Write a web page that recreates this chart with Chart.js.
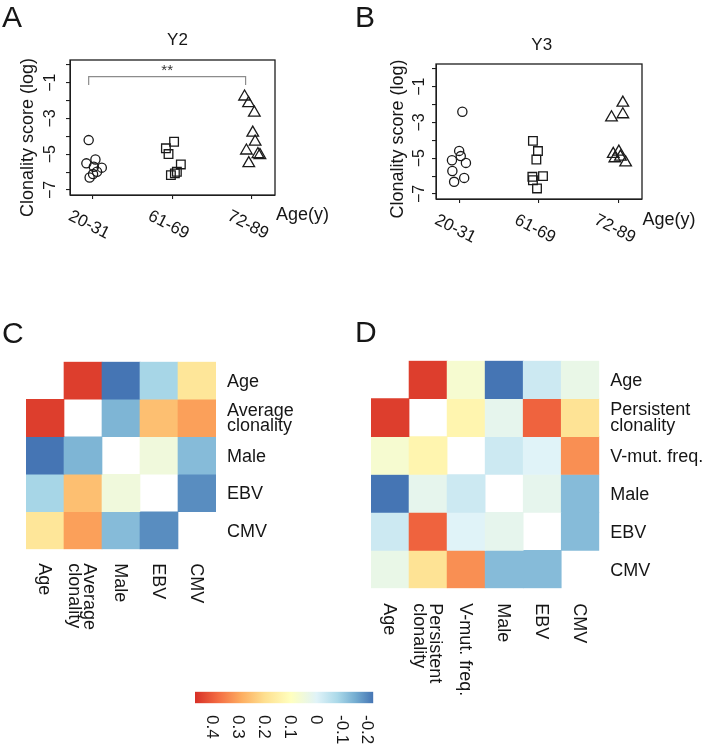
<!DOCTYPE html>
<html><head><meta charset="utf-8">
<script src="https://cdn.jsdelivr.net/npm/chart.js@4.4.0/dist/chart.umd.min.js"></script>
<style>
html,body{margin:0;padding:0;background:#fff;}
#wrap{position:relative;width:710px;height:750px;overflow:hidden;}
#wrap canvas{position:absolute;left:0;top:0;}
</style></head><body>
<div id="wrap">
<canvas id="cA" width="710" height="750"></canvas>
<canvas id="cB" width="710" height="750"></canvas>
<canvas id="cC" width="710" height="750"></canvas>
<canvas id="cD" width="710" height="750"></canvas>
<canvas id="cBar" width="710" height="750"></canvas>
</div>
<script>
// ---------------- DATA ----------------
const ageGroups = ['20-31', '61-69', '72-89'];
const yTickValues = [-1, -3, -5, -7];

// Panel A (Y2)
const y2CircleX = [0.945, 0.916, 1.03, 1.01, 1.11, 1.05, 1.0, 0.957];
const y2CircleY = [-4.21, -5.51, -5.29, -5.70, -5.75, -5.98, -6.11, -6.30];
const y2SquareX = [2.02, 1.917, 1.95, 2.105, 2.055, 2.03, 1.98];
const y2SquareY = [-4.30, -4.67, -4.99, -5.57, -5.98, -6.07, -6.17];
const y2TriX = [2.907, 2.957, 3.03, 3.01, 3.04, 2.93, 3.075, 3.10, 2.96];
const y2TriY = [-1.78, -2.15, -2.68, -3.80, -4.30, -4.80, -5.00, -5.05, -5.51];
const y2BracketX = [0.945, 2.92];
const y2BracketY = [-1.13, -0.66];
const y2SigLabel = '**';

// Panel B (Y3)
const y3CircleX = [1.04, 1.0, 1.02, 0.91, 1.085, 0.915, 1.063, 0.937];
const y3CircleY = [-2.40, -4.59, -4.88, -5.11, -5.26, -5.71, -6.10, -6.32];
const y3SquareX = [1.924, 1.987, 1.967, 1.917, 2.05, 1.924, 1.975];
const y3SquareY = [-4.03, -4.60, -5.07, -6.04, -6.00, -6.23, -6.69];
const y3TriX = [3.05, 2.908, 3.05, 3.0, 2.93, 2.95, 3.02, 3.085];
const y3TriY = [-1.90, -2.72, -2.55, -4.64, -4.77, -5.01, -4.92, -5.24];

// Panel C heatmap
const cLabels = ['Age', ['Average', 'clonality'], 'Male', 'EBV', 'CMV'];
const cValues = [
  [null, 0.45, -0.22, -0.085, 0.18],
  [0.45, null, -0.137, 0.26, 0.31],
  [-0.22, -0.137, null, 0.05, -0.127],
  [-0.085, 0.26, 0.05, null, -0.19],
  [0.18, 0.31, -0.127, -0.19, null]
];

// Panel D heatmap
const dLabels = ['Age', ['Persistent', 'clonality'], 'V-mut. freq.', 'Male', 'EBV', 'CMV'];
const dValues = [
  [null, 0.45, 0.07, -0.22, -0.03, 0.03],
  [0.45, null, 0.133, 0.02, 0.395, 0.19],
  [0.07, 0.133, null, -0.03, 0.0, 0.333],
  [-0.22, 0.02, -0.03, null, 0.02, -0.127],
  [-0.03, 0.395, 0.0, 0.02, null, -0.127],
  [0.03, 0.19, 0.333, -0.127, -0.127, null]
];

// Colour bar
const colorbarTicks = [0.4, 0.3, 0.2, 0.1, 0, -0.1, -0.2];
const colorbarTickLabels = ['0.4', '0.3', '0.2', '0.1', '0', '-0.1', '-0.2'];
const colorbarRange = [-0.219, 0.471];
const colorStopValues = [0.47, 0.38, 0.29, 0.20, 0.10, 0.00, -0.08, -0.15, -0.22];
const colorStopColors = ['#d73027', '#f46d43', '#fdae61', '#fee090', '#ffffbf', '#e0f3f8', '#abd9e9', '#74add1', '#4575b4'];

// ---------------- HELPERS ----------------
const W = 710, H = 750;
const FONT = "'Liberation Sans', Arial, Helvetica, sans-serif";
const INK = '#161616';
const f = s => s + 'px ' + FONT;

function hexToRgb(h) { return [1, 3, 5].map(i => parseInt(h.slice(i, i + 2), 16)); }
function colorFor(v) {
  const sv = colorStopValues, sc = colorStopColors;
  if (v >= sv[0]) return sc[0];
  if (v <= sv[sv.length - 1]) return sc[sc.length - 1];
  for (let i = 0; i < sv.length - 1; i++) {
    if (v <= sv[i] && v >= sv[i + 1]) {
      const t = (sv[i] - v) / (sv[i] - sv[i + 1]);
      const a = hexToRgb(sc[i]), b = hexToRgb(sc[i + 1]);
      return 'rgb(' + a.map((c, k) => Math.round(c + (b[k] - c) * t)).join(',') + ')';
    }
  }
}

// ---------------- SCATTER PANELS ----------------
function makeScatter(id, p) {
  const pts = (xs, ys) => xs.map((x, i) => ({ x, y: ys[i] }));
  const mk = (data, style, r) => ({
    data, pointStyle: style, pointRadius: r, showLine: false,
    pointBackgroundColor: 'rgba(0,0,0,0)', pointBorderColor: '#1a1a1a', pointBorderWidth: 1.3
  });
  const datasets = [
    mk(pts(p.cx, p.cy), 'circle', 4.6),
    mk(pts(p.sx, p.sy), 'rect', 6.1),
    mk(pts(p.tx, p.ty), 'triangle', 6.7)
  ];
  if (p.bx) {
    datasets.push({
      data: [{ x: p.bx[0], y: p.by[0] }, { x: p.bx[0], y: p.by[1] }, { x: p.bx[1], y: p.by[1] }, { x: p.bx[1], y: p.by[0] }],
      showLine: true, borderColor: '#8c8c8c', borderWidth: 1.2, pointRadius: 0, fill: false, tension: 0
    });
  }
  const A = p.area, TL = 4;
  const decor = {
    id: 'decor' + id,
    afterDraw(chart) {
      const ctx = chart.ctx, ca = chart.chartArea, xs = chart.scales.x, ys = chart.scales.y;
      ctx.save();
      ctx.strokeStyle = '#1e1e1e'; ctx.lineWidth = 1.3;
      ctx.strokeRect(ca.left, ca.top, ca.right - ca.left, ca.bottom - ca.top);
      ctx.fillStyle = INK;
      // y tick labels (rotated)
      ctx.font = f(16);
      yTickValues.forEach(v => {
        const py = ys.getPixelForValue(v);
        ctx.save(); ctx.translate(p.yTickX, py); ctx.rotate(-Math.PI / 2);
        ctx.textAlign = 'center'; ctx.textBaseline = 'alphabetic';
        ctx.fillText('\u2212' + Math.abs(v), 0, 5.7); ctx.restore();
      });
      // x tick labels (rotated clockwise)
      ctx.font = f(17);
      ageGroups.forEach((g, i) => {
        const px = xs.getPixelForValue(i + 1) - 4;
        ctx.save(); ctx.translate(px, ca.bottom + 30); ctx.rotate(27 * Math.PI / 180);
        ctx.textAlign = 'center'; ctx.textBaseline = 'middle';
        ctx.fillText(g, 0, 0); ctx.restore();
      });
      // y title
      ctx.font = f(18);
      ctx.save(); ctx.translate(p.yTitleX, p.yTitleY); ctx.rotate(-Math.PI / 2);
      ctx.textAlign = 'center'; ctx.textBaseline = 'alphabetic';
      ctx.fillText('Clonality score (log)', 0, 6.5); ctx.restore();
      // x title
      ctx.textAlign = 'left'; ctx.textBaseline = 'alphabetic';
      ctx.fillText('Age(y)', p.xTitleX, p.xTitleY);
      // panel title
      ctx.font = f(17); ctx.textAlign = 'center';
      ctx.fillText(p.title, p.titleX, p.titleY);
      // panel letter
      ctx.font = f(30); ctx.textAlign = 'left';
      ctx.fillText(p.letter, p.letterX, p.letterY);
      // significance
      if (p.sig) {
        ctx.font = f(15); ctx.textAlign = 'center'; ctx.fillStyle = '#333';
        ctx.fillText(p.sig, xs.getPixelForValue((p.bx[0] + p.bx[1]) / 2), ys.getPixelForValue(p.by[1]) - 1.5);
      }
      ctx.restore();
    }
  };
  return new Chart(document.getElementById(id), {
    type: 'scatter',
    data: { datasets },
    options: {
      responsive: false, animation: false, events: [],
      layout: { autoPadding: false, padding: { left: A.left - TL, top: A.top, right: W - A.right, bottom: H - A.bottom - TL } },
      plugins: { legend: { display: false }, tooltip: { enabled: false } },
      scales: {
        x: {
          type: 'linear', min: 0.71, max: 3.29,
          ticks: { display: false, stepSize: 1, includeBounds: false },
          grid: { drawOnChartArea: false, drawTicks: true, tickLength: TL, color: '#1e1e1e', lineWidth: 1.1 },
          border: { display: true, color: '#1e1e1e' },
          afterFit: s => { s.height = TL; }
        },
        y: {
          type: 'linear', min: -7.28, max: 0.27,
          ticks: { display: false, stepSize: 1, includeBounds: false },
          grid: { drawOnChartArea: false, drawTicks: true, tickLength: TL, color: '#1e1e1e', lineWidth: 1.1 },
          border: { display: true, color: '#1e1e1e' },
          afterFit: s => { s.width = TL; }
        }
      }
    },
    plugins: [decor]
  });
}

makeScatter('cA', {
  cx: y2CircleX, cy: y2CircleY, sx: y2SquareX, sy: y2SquareY, tx: y2TriX, ty: y2TriY,
  bx: y2BracketX, by: y2BracketY, sig: y2SigLabel,
  area: { left: 70, top: 60, right: 275, bottom: 195 },
  yTickX: 49, yTitleX: 26.5, yTitleY: 137.5, xTitleX: 276, xTitleY: 219.5,
  title: 'Y2', titleX: 177.5, titleY: 45, letter: 'A', letterX: 2, letterY: 27
});
makeScatter('cB', {
  cx: y3CircleX, cy: y3CircleY, sx: y3SquareX, sy: y3SquareY, tx: y3TriX, ty: y3TriY,
  area: { left: 436, top: 64, right: 642, bottom: 199 },
  yTickX: 418, yTitleX: 396, yTitleY: 139, xTitleX: 642.5, xTitleY: 224.5,
  title: 'Y3', titleX: 541.7, titleY: 50, letter: 'B', letterX: 355, letterY: 27
});

// ---------------- HEATMAPS ----------------
function makeHeat(id, labels, values, area, opt) {
  const n = labels.length;
  const datasets = values.map((row, i) => ({
    data: row.map(v => (v === null ? null : [i - 0.5, i + 0.5])),
    backgroundColor: row.map(v => (v === null ? 'rgba(0,0,0,0)' : colorFor(v))),
    borderWidth: 0, grouped: false, barPercentage: 1, categoryPercentage: 1
  }));
  const LS = 15.7, CAPH = 6.4;
  const deco = {
    id: 'heat' + id,
    afterDraw(chart) {
      const ctx = chart.ctx, ca = chart.chartArea, xs = chart.scales.x, ys = chart.scales.y;
      ctx.save(); ctx.fillStyle = INK; ctx.font = f(18); ctx.textBaseline = 'alphabetic'; ctx.textAlign = 'left';
      labels.forEach((lab, i) => {
        const lines = Array.isArray(lab) ? lab : [lab];
        const cy = ys.getPixelForValue(i);
        lines.forEach((ln, k) => {
          const b = CAPH - (lines.length - 1) * LS / 2 + k * LS - (lines.length > 1 ? 1 : 0);
          ctx.fillText(ln, ca.right + 11, cy + b);
        });
        const cx = xs.getPixelForValue(i);
        ctx.save(); ctx.translate(cx, ca.bottom + opt.colGap); ctx.rotate(Math.PI / 2);
        lines.forEach((ln, k) => {
          const b = CAPH - (lines.length - 1) * LS / 2 + k * LS;
          ctx.fillText(ln, 0, b);
        });
        ctx.restore();
      });
      ctx.font = f(30);
      ctx.fillText(opt.letter, opt.letterX, opt.letterY);
      ctx.restore();
    }
  };
  return new Chart(document.getElementById(id), {
    type: 'bar',
    data: { labels, datasets },
    options: {
      responsive: false, animation: false, events: [],
      layout: { autoPadding: false, padding: { left: area.left, top: area.top, right: W - area.right, bottom: H - area.bottom } },
      plugins: { legend: { display: false }, tooltip: { enabled: false } },
      scales: {
        x: { type: 'category', display: false, offset: true },
        y: { type: 'linear', display: false, min: -0.5, max: n - 0.5, reverse: true }
      }
    },
    plugins: [deco]
  });
}

makeHeat('cC', cLabels, cValues, { left: 26, top: 361.7, right: 216, bottom: 549.3 },
  { colGap: 14, letter: 'C', letterX: 2, letterY: 343 });
makeHeat('cD', dLabels, dValues, { left: 371, top: 360.7, right: 599.3, bottom: 588.3 },
  { colGap: 15, letter: 'D', letterX: 355, letterY: 342 });

// ---------------- COLOUR BAR ----------------
const barArea = { left: 195, top: 691.7, right: 373.3, bottom: 703.3 };
new Chart(document.getElementById('cBar'), {
  type: 'bar',
  data: {
    labels: ['scale'],
    datasets: [{
      data: [colorbarRange],
      borderWidth: 0, barPercentage: 1, categoryPercentage: 1,
      backgroundColor: (c) => {
        const chart = c.chart, ca = chart.chartArea;
        if (!ca) return '#ccc';
        const xs = chart.scales.x;
        const g = chart.ctx.createLinearGradient(ca.left, 0, ca.right, 0);
        colorStopValues.forEach((v, i) => {
          const off = (xs.getPixelForValue(v) - ca.left) / (ca.right - ca.left);
          g.addColorStop(Math.min(1, Math.max(0, off)), colorStopColors[i]);
        });
        return g;
      }
    }]
  },
  options: {
    indexAxis: 'y', responsive: false, animation: false, events: [],
    layout: { autoPadding: false, padding: { left: barArea.left, top: barArea.top, right: W - barArea.right, bottom: H - barArea.bottom } },
    plugins: { legend: { display: false }, tooltip: { enabled: false } },
    scales: {
      x: { type: 'linear', display: false, min: colorbarRange[0], max: colorbarRange[1], reverse: true },
      y: { type: 'category', display: false }
    }
  },
  plugins: [{
    id: 'cbLabels',
    afterDraw(chart) {
      const ctx = chart.ctx, ca = chart.chartArea, xs = chart.scales.x;
      ctx.save(); ctx.fillStyle = INK; ctx.font = f(17); ctx.textAlign = 'left'; ctx.textBaseline = 'alphabetic';
      colorbarTicks.forEach((v, i) => {
        ctx.save(); ctx.translate(xs.getPixelForValue(v), ca.bottom + 11.7); ctx.rotate(Math.PI / 2);
        ctx.fillText(colorbarTickLabels[i], 0, 6); ctx.restore();
      });
      ctx.restore();
    }
  }]
});
</script>
</body></html>
